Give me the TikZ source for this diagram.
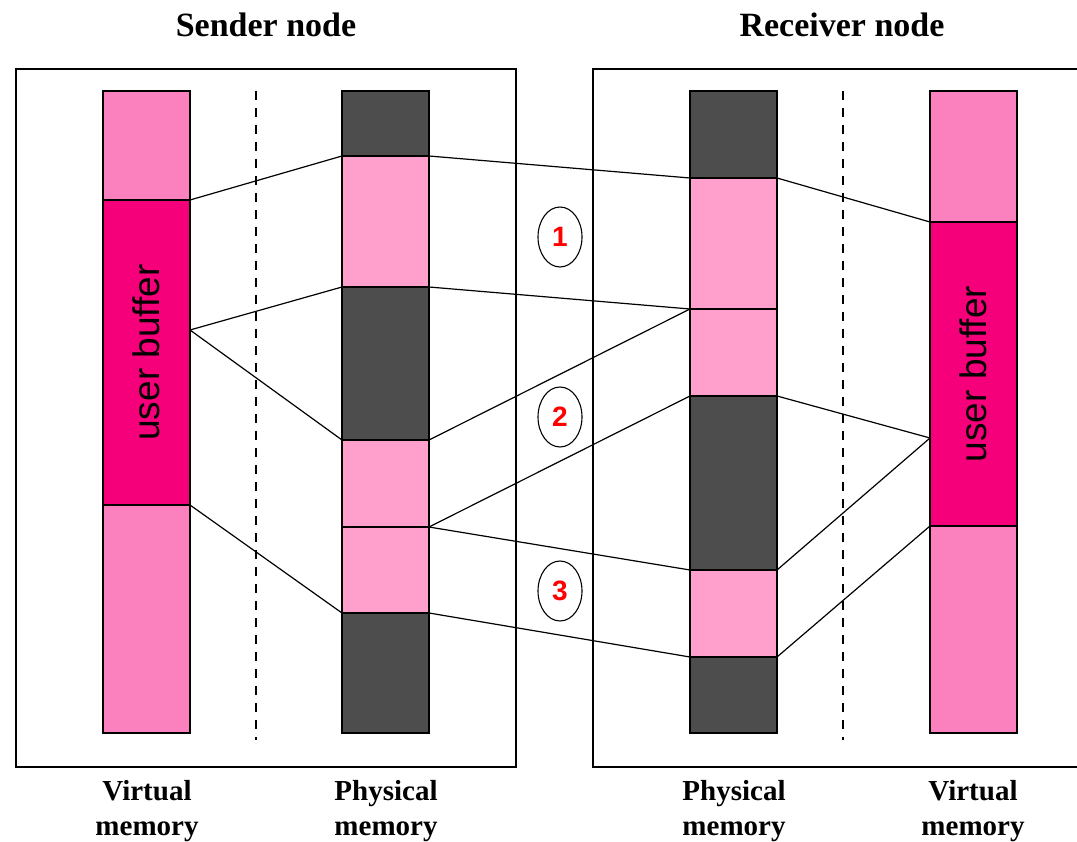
\documentclass[tikz,border=0pt]{standalone}
\usepackage{fontspec}
\setmainfont{Liberation Serif}
\newfontfamily\labelsans{Liberation Sans}
\usetikzlibrary{shapes.geometric}

\definecolor{virtpink}{RGB}{250,128,190}
\definecolor{physpink}{RGB}{255,160,204}
\definecolor{bufpink}{RGB}{245,0,122}
\definecolor{darkseg}{RGB}{77,77,77}

\tikzset{
  seg/.style={draw=black, line width=1.1pt, inner sep=0pt, outer sep=0pt,
              minimum width=87pt, anchor=north west},
  virt/.style={seg, fill=virtpink},
  phys/.style={seg, fill=physpink},
  buf/.style={seg, fill=bufpink},
  dark/.style={seg, fill=darkseg},
  link/.style={line width=1.2pt},
  frame/.style={line width=1.3pt},
  divider/.style={line width=1.4pt, dash pattern=on 9pt off 8pt},
  title/.style={font=\bfseries\fontsize{34}{38}\selectfont},
  memlabel/.style={font=\bfseries\fontsize{29}{35}\selectfont, align=center},
  buftext/.style={font=\labelsans\fontsize{37}{42}\selectfont, rotate=90},
  step label/.style={draw, ellipse, line width=1.1pt, minimum width=44pt,
              minimum height=60pt, inner sep=0pt,
              font=\labelsans\bfseries\fontsize{28}{30}\selectfont, text=red},
}

\begin{document}
\begin{tikzpicture}[x=1pt, y=-1pt]
\useasboundingbox (0,0) rectangle (1077,842);

% node frames
\draw[frame] (16,69) rectangle (516,767);
\draw[frame] (1077,69) -- (593,69) -- (593,767) -- (1077,767);

% titles
\node[title] (sendertitle) at (266,25) {Sender node};
\node[title] (receivertitle) at (842,25) {Receiver node};

% dividers between virtual and physical memory
\draw[divider] (256,91) -- (256,740);
\draw[divider] (843,91) -- (843,740);

% sender virtual memory
\node[virt, minimum height=109pt] (sv1) at (103,91) {};
\node[buf,  minimum height=305pt] (sv2) at (103,200) {};
\node[virt, minimum height=228pt] (sv3) at (103,505) {};
\node[buftext] at (sv2.center) {user buffer};

% sender physical memory
\node[dark, minimum height=65pt]  (sp1) at (342,91) {};
\node[phys, minimum height=131pt] (sp2) at (342,156) {};
\node[dark, minimum height=153pt] (sp3) at (342,287) {};
\node[phys, minimum height=87pt]  (sp4) at (342,440) {};
\node[phys, minimum height=86pt]  (sp5) at (342,527) {};
\node[dark, minimum height=120pt] (sp6) at (342,613) {};

% receiver physical memory
\node[dark, minimum height=87pt]  (rp1) at (690,91) {};
\node[phys, minimum height=131pt] (rp2) at (690,178) {};
\node[phys, minimum height=87pt]  (rp3) at (690,309) {};
\node[dark, minimum height=174pt] (rp4) at (690,396) {};
\node[phys, minimum height=87pt]  (rp5) at (690,570) {};
\node[dark, minimum height=76pt]  (rp6) at (690,657) {};

% receiver virtual memory
\node[virt, minimum height=131pt] (rv1) at (930,91) {};
\node[buf,  minimum height=304pt] (rv2) at (930,222) {};
\node[virt, minimum height=207pt] (rv3) at (930,526) {};
\node[buftext] at (rv2.center) {user buffer};

% page boundary points on the user buffers
\coordinate (sa) at (190,330);
\coordinate (rb) at (930,438);

% sender: virtual to physical mapping
\draw[link] (sv1.south east) -- (sp1.south west);
\draw[link] (sa) -- (sp2.south west);
\draw[link] (sa) -- (sp3.south west);
\draw[link] (sv2.south east) -- (sp5.south west);

% transfers between the nodes
\draw[link] (sp1.south east) -- (rp1.south west);
\draw[link] (sp2.south east) -- (rp2.south west);
\draw[link] (sp3.south east) -- (rp2.south west);
\draw[link] (sp4.south east) -- (rp3.south west);
\draw[link] (sp4.south east) -- (rp4.south west);
\draw[link] (sp5.south east) -- (rp5.south west);

% receiver: physical to virtual mapping
\draw[link] (rp1.south east) -- (rv1.south west);
\draw[link] (rp3.south east) -- (rb);
\draw[link] (rp4.south east) -- (rb);
\draw[link] (rp5.south east) -- (rv2.south west);

% transfer steps
\node[step label] (s1) at (560,237) {1};
\node[step label] (s2) at (560,417) {2};
\node[step label] (s3) at (560,591) {3};

% column captions
\node[memlabel] (lsv) at (147,811) {Virtual\\memory};
\node[memlabel] (lsp) at (386,811) {Physical\\memory};
\node[memlabel] (lrp) at (734,811) {Physical\\memory};
\node[memlabel] (lrv) at (973,811) {Virtual\\memory};
\end{tikzpicture}
\end{document}
